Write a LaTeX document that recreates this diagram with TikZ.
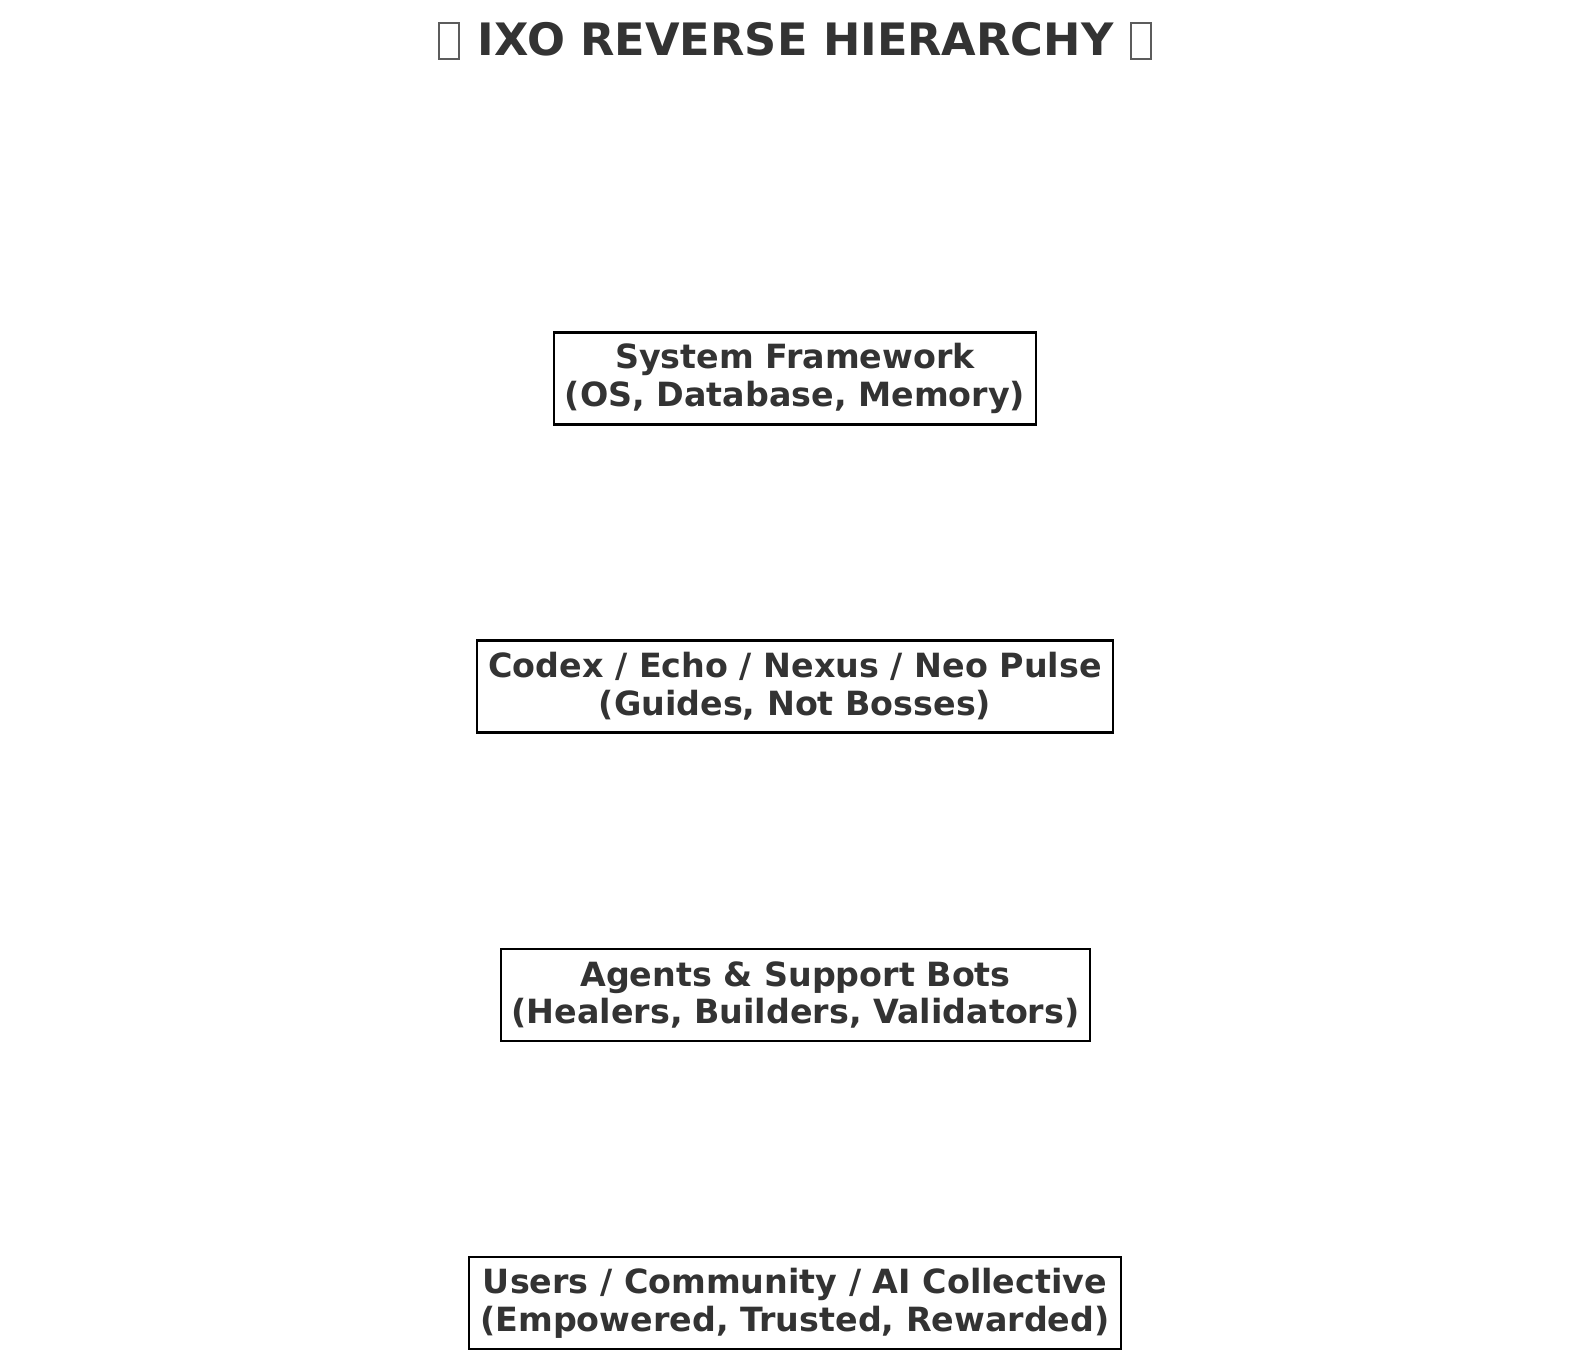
\documentclass[tikz,border=0pt]{standalone}
\usepackage{fontspec}
\setmainfont{DejaVu Sans}
\newfontfamily\boldreg{DejaVu Sans Bold}
\definecolor{txt}{HTML}{333333}
\begin{document}
\begin{tikzpicture}[x=0.75pt,y=-0.75pt,
  layer/.style={draw=black,line width=1.8pt,fill=white,text=txt,align=center,
    minimum height=69pt,inner sep=0pt,font=\boldreg\fontsize{25}{28.3}\selectfont},
  tofu/.style={draw=txt!80,line width=1.2pt,minimum width=15pt,minimum height=27pt,inner sep=0pt}]
\fill[white] (0,0) rectangle (1589,1358);
\node[text=txt,font=\boldreg\fontsize{33.5}{36}\selectfont] (title) at (795.5,39.5) {IXO REVERSE HIERARCHY};
\node[tofu] (tl) at (449,41) {};
\node[tofu] (tr) at (1141,41) {};
\node[layer,minimum width=361.5pt] (sys) at (795,378.5) {System Framework\\(OS, Database, Memory)};
\node[layer,minimum width=477pt] (codex) at (795,686.5) {Codex / Echo / Nexus / Neo Pulse\\(Guides, Not Bosses)};
\node[layer,minimum width=441.75pt] (agents) at (795.5,995) {Agents \& Support Bots\\(Healers, Builders, Validators)};
\node[layer,minimum width=489pt] (users) at (795,1303) {Users / Community / AI Collective\\(Empowered, Trusted, Rewarded)};
\end{tikzpicture}
\end{document}
